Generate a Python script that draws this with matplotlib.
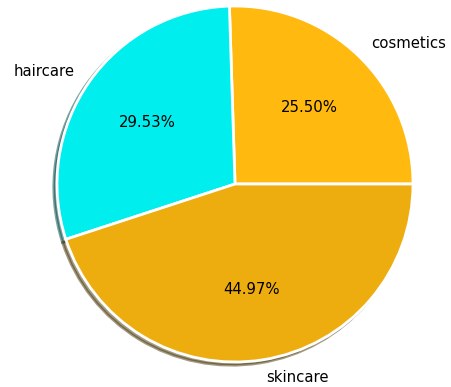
import matplotlib
matplotlib.use("Agg")
import matplotlib.pyplot as plt

# 数据
categories = ["cosmetics", "haircare", "skincare"]
shares = [25.50, 29.53, 44.97]
colors = ["#FFB90F", "#00EEEE", "#EEAD0E"]

fig = plt.figure(figsize=(4.51, 3.87), dpi=100)
R = 178  # 半径（像素）
side = 2.5 * R
ax = fig.add_axes([(235 - side / 2) / 451, (203 - side / 2) / 387, side / 451, side / 387])

ax.pie(shares, labels=categories, colors=colors, autopct="%.2f%%",
       startangle=0, shadow={"ox": -0.013, "oy": -0.013},
       wedgeprops={"edgecolor": "white", "linewidth": 2},
       textprops={"fontsize": 10.7})
ax.set_xlim(-1.25, 1.25)
ax.set_ylim(-1.25, 1.25)
ax.set_aspect("equal")

fig.savefig("out.png", dpi=100)
